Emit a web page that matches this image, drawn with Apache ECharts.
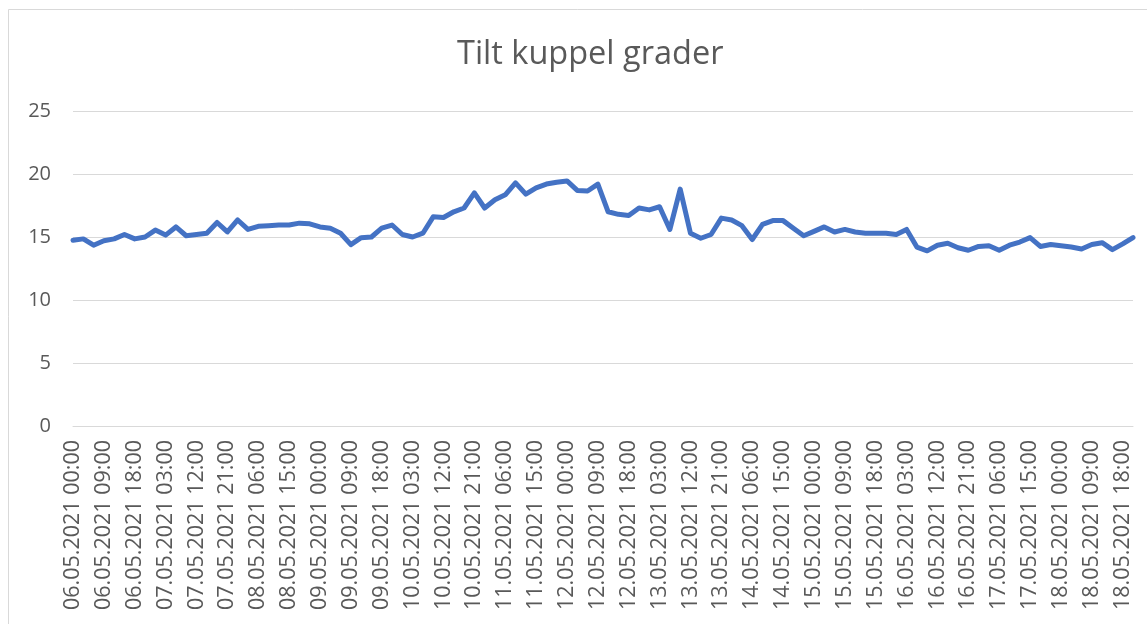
<!DOCTYPE html>
<html>
<head>
<meta charset="utf-8">
<script src="https://cdn.jsdelivr.net/npm/echarts@6/dist/echarts.min.js"></script>
<style>html,body{margin:0;padding:0;background:#fff;}#c{width:1147px;height:624px;}</style>
</head>
<body>
<div id="c"></div>
<script>
// 3-hourly readings, 06.05.2021 00:00 .. 18.05.2021 21:00
const startDay = 6;
const stepHours = 3;
const values = [
  14.75, 14.85, 14.35, 14.7, 14.85, 15.2, 14.85, 15.0, 15.55, 15.15,
  15.8, 15.1, 15.2, 15.3, 16.15, 15.4, 16.35, 15.6, 15.85, 15.9,
  15.95, 15.95, 16.1, 16.05, 15.8, 15.7, 15.3, 14.4, 14.95, 15.0,
  15.7, 15.95, 15.2, 15.0, 15.3, 16.6, 16.55, 17.0, 17.3, 18.5,
  17.3, 17.95, 18.35, 19.3, 18.4, 18.9, 19.2, 19.35, 19.45, 18.7,
  18.65, 19.2, 17.0, 16.8, 16.7, 17.3, 17.15, 17.4, 15.6, 18.8,
  15.3, 14.9, 15.2, 16.5, 16.35, 15.9, 14.8, 16.0, 16.3, 16.3,
  15.7, 15.1, 15.45, 15.8, 15.4, 15.6, 15.4, 15.3, 15.3, 15.3,
  15.2, 15.6, 14.2, 13.9, 14.35, 14.5, 14.15, 13.95, 14.25, 14.3,
  13.95, 14.35, 14.6, 14.95, 14.25, 14.4, 14.3, 14.2, 14.05, 14.4,
  14.55, 14.0, 14.45, 14.95
];
const pad = n => (n < 10 ? '0' : '') + n;
const categories = values.map((v, i) => {
  const h = i * stepHours;
  const d = startDay + Math.floor(h / 24);
  return pad(d) + '.05.2021 ' + pad(h % 24) + ':00';
});
const yTicks = [0, 5, 10, 15, 20, 25];
const titleText = 'Tilt kuppel grader';

const FONT = 'Open Sans';
const chart = echarts.init(document.getElementById('c'), null, {renderer: 'canvas'});
chart.setOption({
  backgroundColor: '#ffffff',
  animation: false,
  title: {
    text: titleText,
    left: 452,
    top: 33,
    textStyle: {fontFamily: FONT, fontSize: 32.5, fontWeight: 'normal', color: '#595959'}
  },
  graphic: [{
    type: 'polyline',
    shape: {points: [[8.5, 624], [8.5, 9.5], [1147, 9.5]]},
    style: {stroke: '#D9D9D9', lineWidth: 1, fill: null}
  }],
  grid: {left: 73, right: 14, top: 111, bottom: 198, containLabel: false},
  xAxis: {
    type: 'category',
    data: categories,
    boundaryGap: false,
    axisLine: {lineStyle: {color: '#D9D9D9', width: 1}},
    axisTick: {show: false},
    axisLabel: {
      interval: 2,
      rotate: 90,
      margin: 14,
      fontFamily: FONT,
      fontSize: 21.5,
      color: '#595959'
    },
    splitLine: {show: false}
  },
  yAxis: {
    type: 'value',
    min: yTicks[0],
    max: yTicks[yTicks.length - 1],
    interval: 5,
    axisLine: {show: false},
    axisTick: {show: false},
    axisLabel: {margin: 22, fontFamily: FONT, fontSize: 20, color: '#595959'},
    splitLine: {lineStyle: {color: '#D9D9D9', width: 1}}
  },
  series: [{
    type: 'line',
    data: values,
    showSymbol: false,
    symbol: 'none',
    smooth: false,
    lineStyle: {color: '#4472C4', width: 5, join: 'round', cap: 'round'}
  }]
});
</script>
</body>
</html>
